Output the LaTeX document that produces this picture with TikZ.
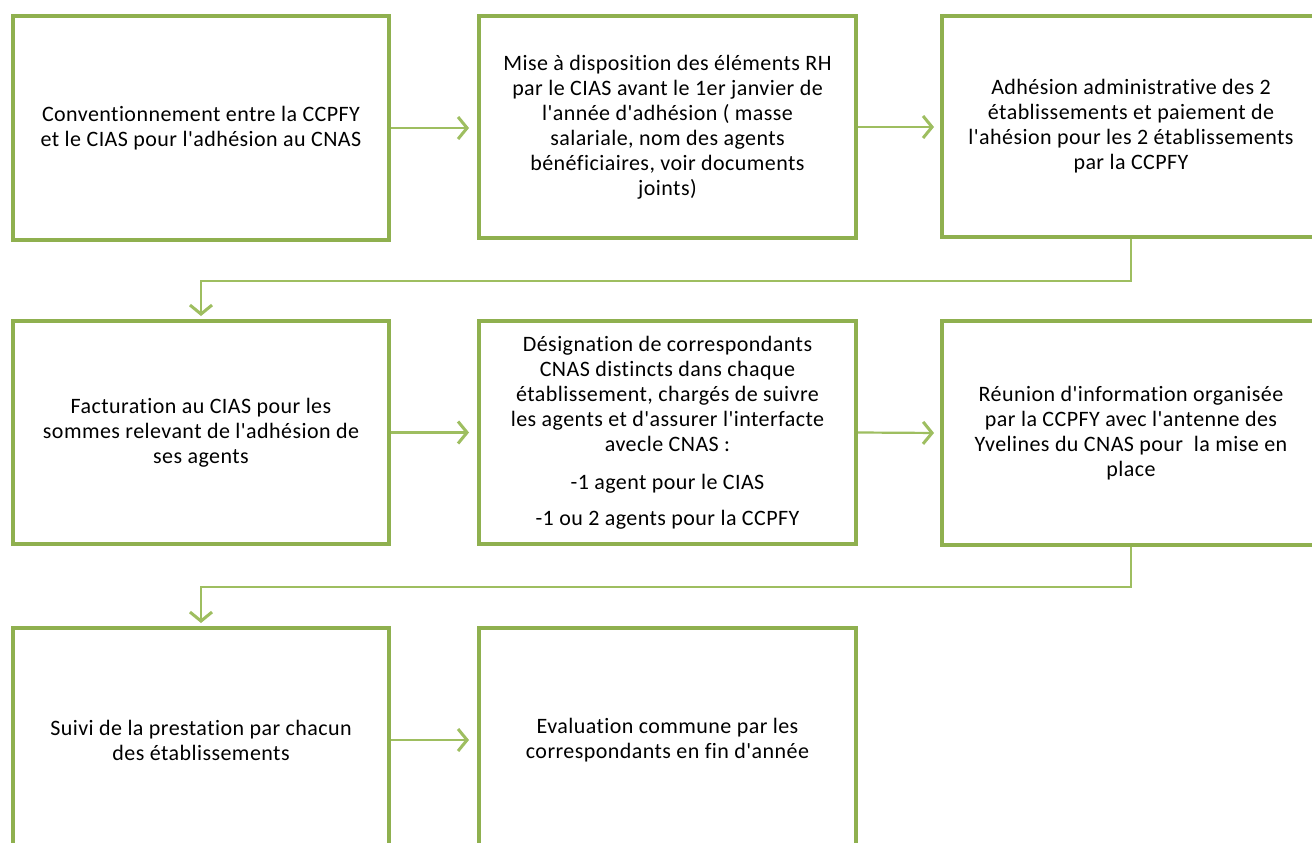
\documentclass[tikz,border=0pt]{standalone}
\usepackage{fontspec}
\setmainfont{Carlito}[Ligatures={TeXOff,NoCommon},LetterSpace=2]
\usetikzlibrary{arrows.meta}
\definecolor{boxgreen}{HTML}{8FB04F}
\definecolor{linegreen}{HTML}{9EBE60}
\tikzset{
  box/.style={draw=boxgreen, line width=4pt, fill=white, align=center,
    inner sep=0pt, font=\fontsize{22}{25}\selectfont},
  conn/.style={draw=linegreen, line width=2.2pt,
    -{Straight Barb[length=9pt,width=22pt,line width=3pt]}}
}
\begin{document}
\begin{tikzpicture}[x=1pt,y=-1pt]
\useasboundingbox (0,0) rectangle (1312,843);
\clip (0,0) rectangle (1312,843);
\fill[white] (0,0) rectangle (1312,843);
\node[box, minimum width=376pt, minimum height=224pt] (b1) at (201,128)
  {Conventionnement entre la CCPFY\\et le CIAS pour l'adhésion au CNAS};
\node[box, minimum width=377pt, minimum height=222pt] (b2) at (667.5,127)
  {Mise à disposition des éléments RH\\par le CIAS avant le 1er janvier de\\l'année d'adhésion ( masse\\salariale, nom des agents\\bénéficiaires, voir documents\\joints)};
\node[box, minimum width=378pt, minimum height=221pt] (b3) at (1131,126.5)
  {Adhésion administrative des 2\\établissements et paiement de\\l'ahésion pour les 2 établissements\\par la CCPFY};
\node[box, minimum width=376pt, minimum height=223pt] (b4) at (201,432.5)
  {Facturation au CIAS pour les\\sommes relevant de l'adhésion de\\ses agents};
\node[box, minimum width=377pt, minimum height=223pt] (b5) at (667.5,432.5)
  {Désignation de correspondants\\CNAS distincts dans chaque\\établissement, chargés de suivre\\les agents et d'assurer l'interfacte\\avecle CNAS :\\[13pt]-1 agent pour le CIAS\\[11pt]-1 ou 2 agents pour la CCPFY};
\node[box, minimum width=378pt, minimum height=224pt] (b6) at (1131,433)
  {Réunion d'information organisée\\par la CCPFY avec l'antenne des\\Yvelines du CNAS pour \ la mise en\\place};
\node[box, minimum width=376pt, minimum height=224pt] (b7) at (201,740)
  {Suivi de la prestation par chacun\\des établissements};
\node[box, minimum width=377pt, minimum height=224pt] (b8) at (667.5,740)
  {Evaluation commune par les\\correspondants en fin d'année};
\draw[conn, shorten >=8pt] (b1.east) -- (b1.east -| b2.west);
\draw[conn, shorten >=6pt] (b2.east) -- (b2.east -| b3.west);
\draw[conn, shorten >=8pt] (b4.east) -- (b5.west);
\draw[conn, shorten >=6pt] (b5.east) -- (b6.west);
\draw[conn, shorten >=8pt] (b7.east) -- (b8.west);
\draw[conn, shorten >=3pt] (b3.south) -- ++(0,42) -| (b4.north);
\draw[conn, shorten >=3pt] (b6.south) -- ++(0,40) -| (b7.north);
\end{tikzpicture}
\end{document}
